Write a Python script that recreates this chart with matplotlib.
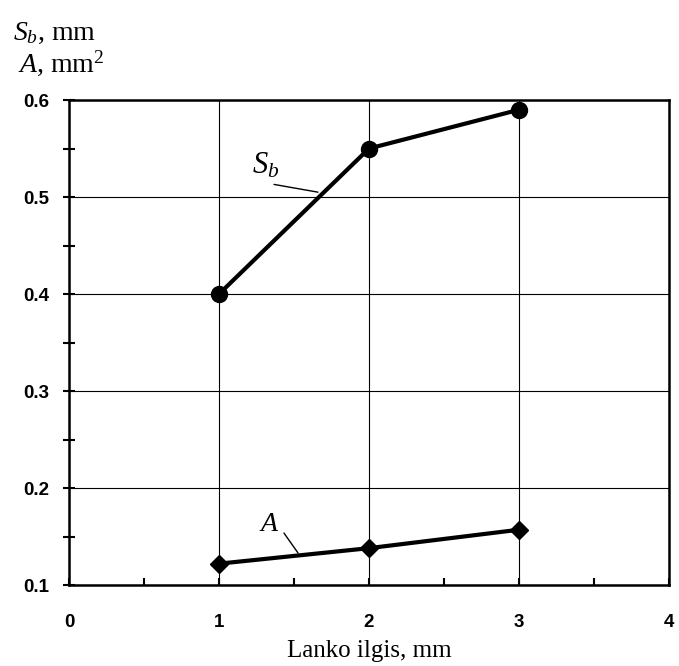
import matplotlib
matplotlib.use("Agg")
import matplotlib.pyplot as plt
from matplotlib.ticker import MultipleLocator

plt.rcParams["mathtext.fontset"] = "custom"
plt.rcParams["mathtext.rm"] = "Liberation Serif"
plt.rcParams["mathtext.it"] = "Liberation Serif:italic"

# duomenys
lanko_ilgis = [1, 2, 3]
sb_values = [0.40, 0.55, 0.59]
a_values = [0.122, 0.138, 0.157]

x_ticks = [0, 1, 2, 3, 4]
y_ticks = [0.1, 0.2, 0.3, 0.4, 0.5, 0.6]

fig = plt.figure(figsize=(6.79, 6.66), dpi=100)
ax = fig.add_axes([0.1016, 0.1216, 0.8837, 0.7282])

ax.set_xlim(0, 4)
ax.set_ylim(0.1, 0.6)
ax.set_xticks(x_ticks)
ax.set_yticks(y_ticks)
ax.set_xticklabels([str(v) for v in x_ticks])
ax.set_yticklabels([f"{v:.1f}" for v in y_ticks])
ax.xaxis.set_minor_locator(MultipleLocator(0.5))
ax.yaxis.set_minor_locator(MultipleLocator(0.05))

ax.grid(True, which="major", color="black", linewidth=0.8)
ax.set_axisbelow(True)

for sp in ax.spines.values():
    sp.set_linewidth(1.8)

for t in ax.get_xticklabels() + ax.get_yticklabels():
    t.set_fontfamily("Liberation Sans")
    t.set_fontweight("bold")
    t.set_fontsize(13.5)

ax.tick_params(axis="x", which="both", direction="in", length=5, width=1.5, pad=21)
ax.tick_params(axis="y", which="both", direction="inout", length=8, width=1.5, pad=10)

ax.plot(lanko_ilgis, sb_values, color="black", linewidth=3,
        marker="o", markersize=11.5, zorder=5)
ax.plot(lanko_ilgis, a_values, color="black", linewidth=3,
        marker="D", markersize=9, zorder=5)

# kreiviu pavadinimai ir rodykles
ax.text(1.313, 0.533, "$S_b$", fontsize=22, ha="center", va="center")
ax.annotate("", xy=(1.66, 0.505), xytext=(1.367, 0.513),
            arrowprops=dict(arrowstyle="-", color="black", lw=1,
                            shrinkA=0, shrinkB=0))
ax.text(1.333, 0.164, "$A$", fontsize=20, ha="center", va="center")
ax.annotate("", xy=(1.527, 0.133), xytext=(1.433, 0.1536),
            arrowprops=dict(arrowstyle="-", color="black", lw=1,
                            shrinkA=0, shrinkB=0))

ax.set_xlabel("Lanko ilgis, mm", fontfamily="Liberation Serif", fontsize=18, labelpad=6)

fig.text(0.019, 0.94, "$S_b$, mm", fontfamily="Liberation Serif", fontsize=20,
         ha="left", va="baseline")
fig.text(0.0265, 0.892, "$A$, mm$^2$", fontfamily="Liberation Serif", fontsize=20,
         ha="left", va="baseline")

plt.savefig("out.png", dpi=100)
plt.close(fig)
